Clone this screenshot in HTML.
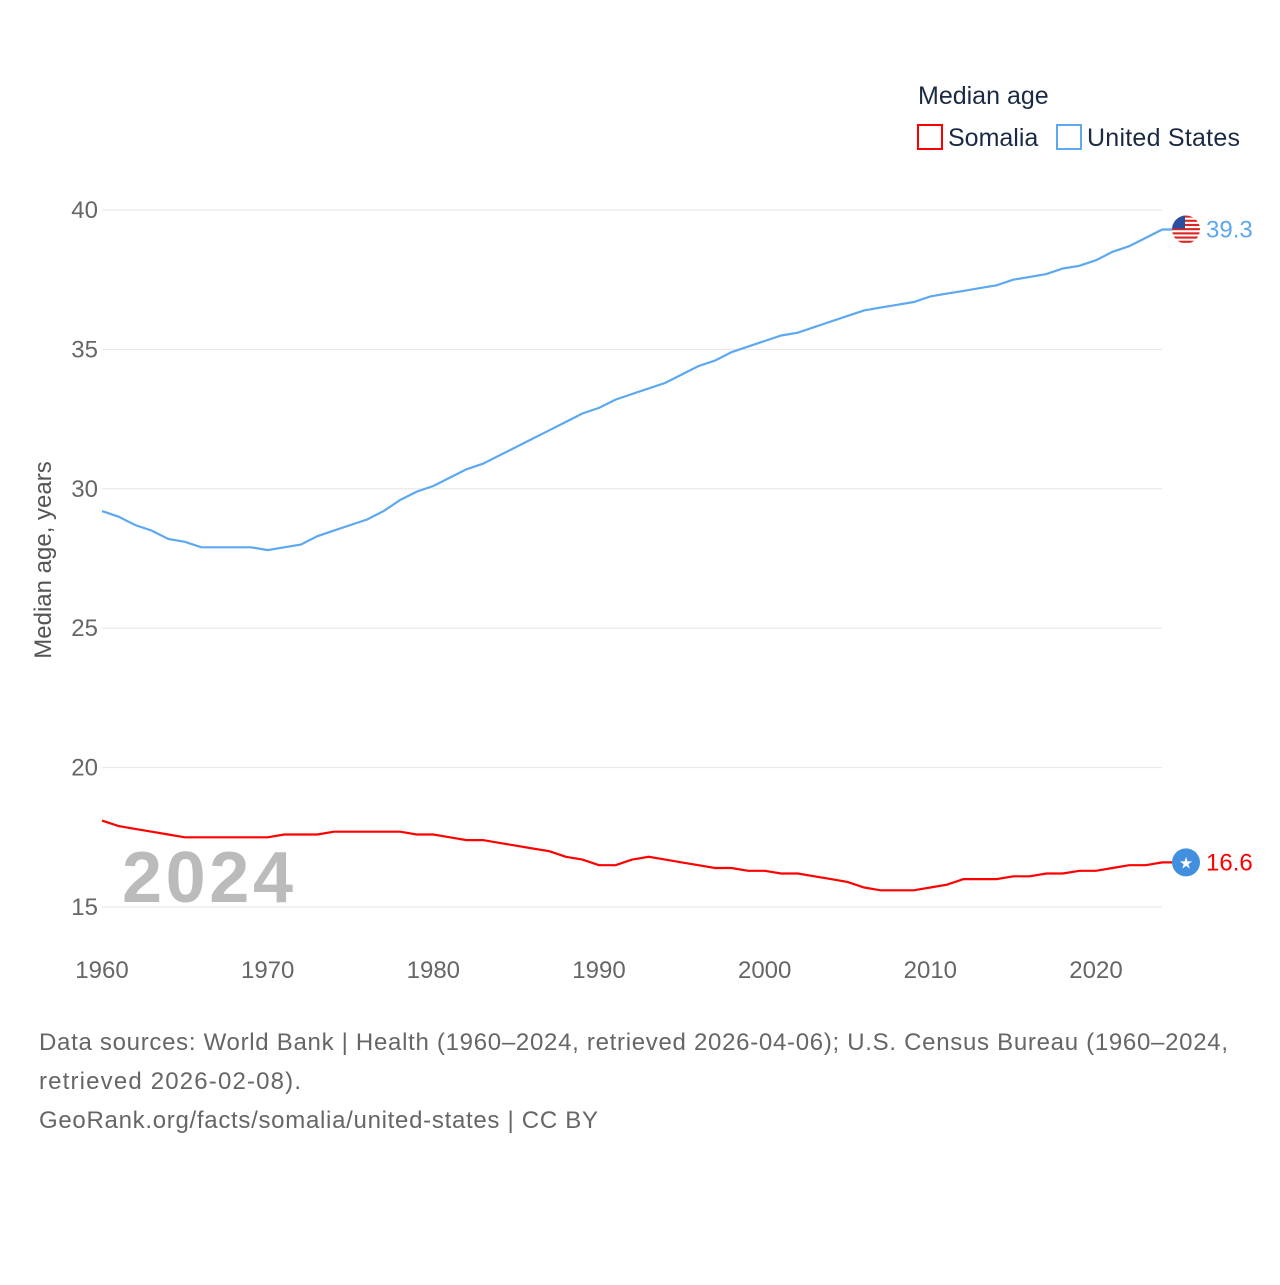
<!DOCTYPE html>
<html><head><meta charset="utf-8"><style>
body{margin:0;background:#fff;font-family:"Liberation Sans",sans-serif}
</style></head><body>
<svg id="chart" width="1280" height="1280" xmlns="http://www.w3.org/2000/svg" font-family="Liberation Sans, sans-serif">
<defs><clipPath id="usclip"><circle id="usclipc" cx="1186" cy="230" r="14"/></clipPath></defs>
<text x="918" y="104" font-size="25" fill="#1a2a44">Median age</text>
<g><rect x="918" y="125" width="24" height="24" fill="none" stroke="#f00" stroke-width="2"/><text x="948" y="146" font-size="25" fill="#1a2a44">Somalia</text></g>
<g><rect x="1057" y="125" width="24" height="24" fill="none" stroke="#5da8ef" stroke-width="2"/><text x="1087" y="146" font-size="25" fill="#1a2a44" textLength="153">United States</text></g>
<g id="grid"></g>
<text transform="translate(51,560) rotate(-90)" text-anchor="middle" font-size="24" fill="#555">Median age, years</text>
<text x="122" y="902" font-size="72" font-weight="bold" fill="#bbb" textLength="171">2024</text>
<g id="series"></g>
<text font-size="24" fill="#666"><tspan x="39" y="1050" textLength="1189">Data sources: World Bank | Health (1960–2024, retrieved 2026-04-06); U.S. Census Bureau (1960–2024,</tspan><tspan x="39" y="1089" textLength="262">retrieved 2026-02-08).</tspan><tspan x="39" y="1128" textLength="559">GeoRank.org/facts/somalia/united-states | CC BY</tspan></text>
</svg>
<script>
const years=[];for(let y=1960;y<=2024;y++)years.push(y);
const usValues=[29.2,29.0,28.7,28.5,28.2,28.1,27.9,27.9,27.9,27.9,27.8,27.9,28.0,28.3,28.5,28.7,28.9,29.2,29.6,29.9,30.1,30.4,30.7,30.9,31.2,31.5,31.8,32.1,32.4,32.7,32.9,33.2,33.4,33.6,33.8,34.1,34.4,34.6,34.9,35.1,35.3,35.5,35.6,35.8,36.0,36.2,36.4,36.5,36.6,36.7,36.9,37.0,37.1,37.2,37.3,37.5,37.6,37.7,37.9,38.0,38.2,38.5,38.7,39.0,39.3];
const soValues=[18.1,17.9,17.8,17.7,17.6,17.5,17.5,17.5,17.5,17.5,17.5,17.6,17.6,17.6,17.7,17.7,17.7,17.7,17.7,17.6,17.6,17.5,17.4,17.4,17.3,17.2,17.1,17.0,16.8,16.7,16.5,16.5,16.7,16.8,16.7,16.6,16.5,16.4,16.4,16.3,16.3,16.2,16.2,16.1,16.0,15.9,15.7,15.6,15.6,15.6,15.7,15.8,16.0,16.0,16.0,16.1,16.1,16.2,16.2,16.3,16.3,16.4,16.5,16.5,16.6];
const yTicks=[15,20,25,30,35,40];
const xTicks=[1960,1970,1980,1990,2000,2010,2020];
const NS="http://www.w3.org/2000/svg";
const xs=y=>102+(y-1960)*(1096-102)/60;
const ys=v=>907-(v-15)*(907-210)/25;
const grid=document.getElementById('grid'),ser=document.getElementById('series');
function mk(tag,attrs,parent,txt){const e=document.createElementNS(NS,tag);for(const k in attrs)e.setAttribute(k,attrs[k]);if(txt!==undefined)e.textContent=txt;parent.appendChild(e);return e;}
yTicks.forEach(t=>{
 const l=mk('line',{x1:102,x2:1162,y1:ys(t),y2:ys(t),stroke:'#e6e6e6','stroke-width':1},grid);
 
 
 const tx=mk('text',{x:98,y:ys(t)+8,'text-anchor':'end','font-size':24,fill:'#666'},grid,String(t));
 
 
});
xTicks.forEach(t=>{
 const tx=mk('text',{x:xs(t),y:978,'text-anchor':'middle','font-size':24,fill:'#666'},grid,String(t));
 
 
});
function line(vals,color,name){
 let d=vals.map((v,i)=>(i?'L':'M')+xs(years[i]).toFixed(1)+','+ys(v).toFixed(1)).join(' ');
 d+=' L'+(xs(2024)+10)+','+ys(vals[vals.length-1]).toFixed(1);
 const p=mk('path',{d:d,fill:'none',stroke:color,'stroke-width':2.2},ser);
 
 
}
line(usValues,'#5da8ef','united-states-line');
line(soValues,'#f00','somalia-line');
const uy=ys(usValues[usValues.length-1]),sy=ys(soValues[soValues.length-1]);
document.getElementById('usclipc').setAttribute('cy',uy);
const uf=mk('g',{'clip-path':'url(#usclip)'},ser);


mk('circle',{cx:1186,cy:uy,r:14,fill:'#fff'},uf);
for(let i=0;i<7;i++)mk('rect',{x:1172,y:uy-14+i*4.2,width:28,height:2.1,fill:'#d22'},uf);
mk('rect',{x:1172,y:uy-14,width:13,height:13,fill:'#2a4fa0'},uf);
const sf=mk('g',{},ser);


mk('circle',{cx:1186,cy:sy,r:14,fill:'#418fde'},sf);
mk('text',{x:1186,y:sy+6,'text-anchor':'middle','font-size':16,fill:'#fff'},sf,'★');
const ul=mk('text',{x:1206,y:uy+8,'font-size':24,fill:'#5da8ef'},ser,String(usValues[usValues.length-1]));


const sl=mk('text',{x:1206,y:sy+8,'font-size':24,fill:'#f00'},ser,String(soValues[soValues.length-1]));


</script>
</body></html>
